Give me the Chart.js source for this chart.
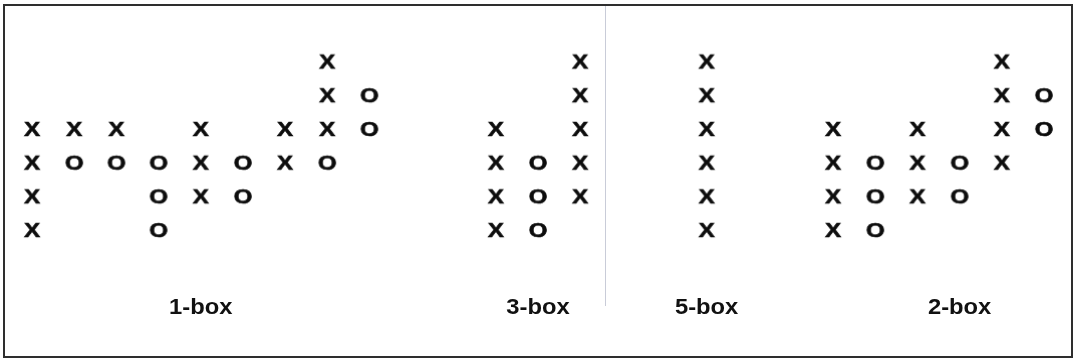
<!DOCTYPE html>
<html>
<head>
<meta charset="utf-8">
<script src="https://cdn.jsdelivr.net/npm/chart.js@4.4.1/dist/chart.umd.min.js"></script>
<style>
  html, body { margin: 0; padding: 0; background: #fff; }
  #wrap { position: relative; width: 1076px; height: 359px; }
  #frame { position: absolute; left: 3px; top: 4px; width: 1070px; height: 354px; box-sizing: border-box; border: 2px solid #2e2e2e; pointer-events: none; }
  #divider { position: absolute; left: 605px; top: 6px; width: 1px; height: 300px; background: #c9ccd8; }
  canvas { position: absolute; left: 0; top: 0; }
</style>
</head>
<body>
<div id="wrap">
  <canvas id="chart" width="1076" height="359"></canvas>
  <div id="divider"></div>
  <div id="frame"></div>
</div>
<script>
// column index -> rows holding an X (rows counted from the bottom, 1 = lowest)
const xColumns = [
  [0, [1, 2, 3, 4]],
  [1, [4]],
  [2, [4]],
  [4, [2, 3, 4]],
  [6, [3, 4]],
  [7, [4, 5, 6]],
  [11, [1, 2, 3, 4]],
  [13, [2, 3, 4, 5, 6]],
  [16, [1, 2, 3, 4, 5, 6]],
  [19, [1, 2, 3, 4]],
  [21, [2, 3, 4]],
  [23, [3, 4, 5, 6]]
];
// column index -> rows holding an O
const oColumns = [
  [1, [3]],
  [2, [3]],
  [3, [1, 2, 3]],
  [5, [2, 3]],
  [7, [3]],
  [8, [4, 5]],
  [12, [1, 2, 3]],
  [20, [1, 2, 3]],
  [22, [2, 3]],
  [24, [4, 5]]
];
// panel captions and the column they sit under
const boxLabels = ["1-box", "3-box", "5-box", "2-box"];
const boxLabelCols = [4, 12, 16, 22];
const labelRow = -1.32;

function toPoints(cols) {
  const pts = [];
  cols.forEach(([c, rows]) => rows.forEach(r => pts.push({ x: c, y: r })));
  return pts;
}

function glyph(ch) {
  const cv = document.createElement("canvas");
  cv.width = 30; cv.height = 30;
  const g = cv.getContext("2d");
  g.fillStyle = "#0d0d0d";
  g.strokeStyle = "#0d0d0d";
  g.lineWidth = 0.6;
  g.font = "bold 20px 'Liberation Sans', Arial, sans-serif";
  g.textAlign = "center";
  g.textBaseline = "middle";
  g.translate(15, 16);
  g.scale(1.2, 1);
  g.fillText(ch, 0, 0);
  g.strokeText(ch, 0, 0);
  return cv;
}

const labelPlugin = {
  id: "boxLabels",
  afterDatasetsDraw(chart) {
    const { ctx, scales } = chart;
    ctx.save();
    ctx.fillStyle = "#111";
    ctx.font = "bold 22px 'Liberation Sans', Arial, sans-serif";
    ctx.textAlign = "center";
    ctx.textBaseline = "middle";
    boxLabels.forEach((t, i) => {
      const px = scales.x.getPixelForValue(boxLabelCols[i]);
      const py = scales.y.getPixelForValue(labelRow);
      ctx.save();
      ctx.translate(px, py);
      ctx.scale(1.08, 1);
      ctx.fillText(t, 0, 0);
      ctx.restore();
    });
    ctx.restore();
  }
};

new Chart(document.getElementById("chart"), {
  type: "scatter",
  data: {
    datasets: [
      { label: "X", data: toPoints(xColumns), pointStyle: glyph("X"), pointRadius: 10 },
      { label: "O", data: toPoints(oColumns), pointStyle: glyph("O"), pointRadius: 10 }
    ]
  },
  options: {
    responsive: false,
    animation: false,
    layout: { padding: { left: 4, right: 2, top: 8, bottom: 7 } },
    plugins: { legend: { display: false }, tooltip: { enabled: false } },
    scales: {
      x: { type: "linear", min: -0.5, max: 24.5, display: false },
      y: { type: "linear", min: -2.5, max: 7.5, display: false }
    }
  },
  plugins: [labelPlugin]
});
</script>
</body>
</html>
